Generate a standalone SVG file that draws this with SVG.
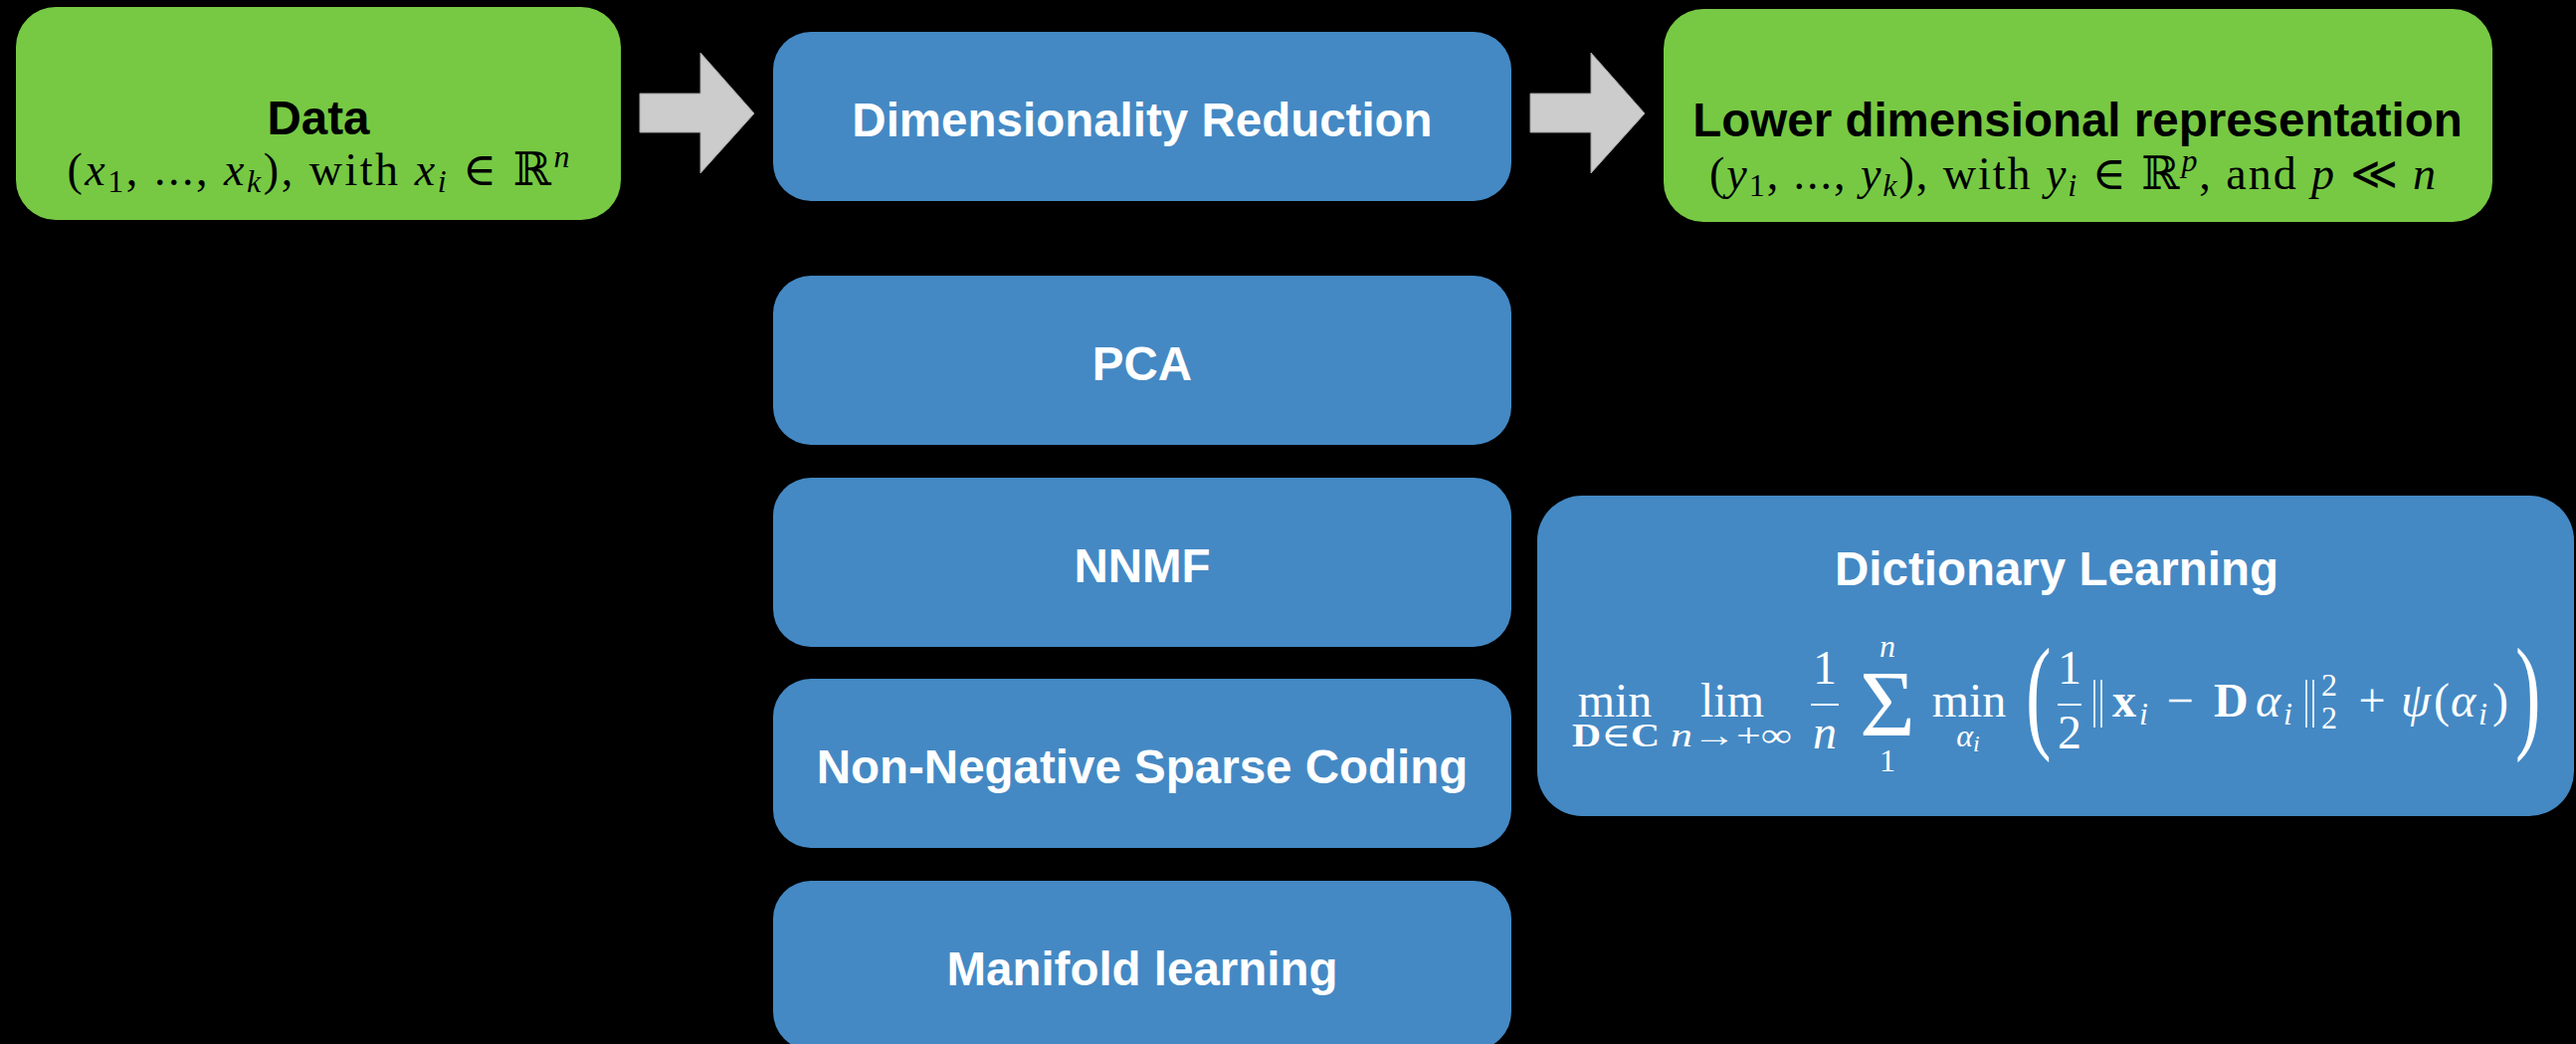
<svg xmlns="http://www.w3.org/2000/svg" width="2589" height="1049" viewBox="0 0 2589 1049">
<defs>
<style>
.bg{fill:#000}
.green{fill:#77c944}
.blue{fill:#4489c4}
.t{font-family:"Liberation Sans",Arial,sans-serif;font-weight:bold;font-size:47.5px;text-anchor:middle}
.w{fill:#fff}
.k{fill:#000}
.m{font-family:"Liberation Serif","DejaVu Serif",serif;font-size:46px}
.big{font-size:48px}
.s{font-size:32px}
.ss{font-size:24px}
.it{font-style:italic}
.bd{font-weight:bold}
.mid{text-anchor:middle}
.arrow{fill:#cccccc;stroke:#a0a0a0;stroke-width:1}
.bar{stroke:#fff;stroke-width:2}
.norm{stroke:#fff;stroke-width:1.6}
</style>
</defs>
<rect class="bg" x="0" y="0" width="2589" height="1049"/>

<g id="connectors">
<polygon class="arrow" points="643,94 704,94 704,53 758,114 704,174 704,133 643,133"/>
<polygon class="arrow" points="1538,94 1599,94 1599,53 1653,114 1599,174 1599,133 1538,133"/>
</g>

<g id="data">
<rect class="green" x="16" y="7" width="608" height="214" rx="40" ry="40"/>
<text class="t k" x="320" y="135">Data</text>
<text class="m k mid" x="320" y="186" textLength="505">(<tspan class="it">x</tspan><tspan class="s" dy="7">1</tspan><tspan dy="-7">, ..., </tspan><tspan class="it">x</tspan><tspan class="s it" dy="7">k</tspan><tspan dy="-7">), with </tspan><tspan class="it">x</tspan><tspan class="s it" dy="7">i</tspan><tspan dy="-7"> ∈ ℝ</tspan><tspan class="s it" dy="-18">n</tspan></text>
</g>

<g id="dimensionality-reduction">
<rect class="blue" x="777" y="32" width="742" height="170" rx="38" ry="38"/>
<text class="t w" x="1148" y="137">Dimensionality Reduction</text>
</g>

<g id="lower-dimensional">
<rect class="green" x="1672" y="9" width="833" height="214" rx="40" ry="40"/>
<text class="t k" x="2088" y="137">Lower dimensional representation</text>
<text class="m k mid" x="2083" y="190" textLength="730">(<tspan class="it">y</tspan><tspan class="s" dy="7">1</tspan><tspan dy="-7">, ..., </tspan><tspan class="it">y</tspan><tspan class="s it" dy="7">k</tspan><tspan dy="-7">), with </tspan><tspan class="it">y</tspan><tspan class="s it" dy="7">i</tspan><tspan dy="-7"> ∈ ℝ</tspan><tspan class="s it" dy="-18">p</tspan><tspan dy="18">, and </tspan><tspan class="it">p</tspan><tspan> ≪ </tspan><tspan class="it">n</tspan></text>
</g>

<g id="pca">
<rect class="blue" x="777" y="277" width="742" height="170" rx="38" ry="38"/>
<text class="t w" x="1148" y="382">PCA</text>
</g>

<g id="nnmf">
<rect class="blue" x="777" y="480" width="742" height="170" rx="38" ry="38"/>
<text class="t w" x="1148" y="585">NNMF</text>
</g>

<g id="nnsc">
<rect class="blue" x="777" y="682" width="742" height="170" rx="38" ry="38"/>
<text class="t w" x="1148" y="787">Non-Negative Sparse Coding</text>
</g>

<g id="manifold">
<rect class="blue" x="777" y="885" width="742" height="170" rx="38" ry="38"/>
<text class="t w" x="1148" y="990">Manifold learning</text>
</g>

<g id="dictionary-learning">
<rect class="blue" x="1545" y="498" width="1042" height="322" rx="45" ry="45"/>
<text class="t w" x="2067" y="588">Dictionary Learning</text>
<g class="m w">
<text class="big mid" x="1623" y="720">min</text>
<text class="mid" font-size="34" x="1624" y="750" textLength="88" lengthAdjust="spacingAndGlyphs"><tspan class="bd">D</tspan>∈<tspan class="bd">C</tspan></text>
<text class="big mid" x="1741" y="720">lim</text>
<text class="mid" font-size="34" x="1740" y="750" textLength="122" lengthAdjust="spacingAndGlyphs"><tspan class="it">n</tspan>→+∞</text>
<text class="big mid" x="1834" y="687">1</text>
<line class="bar" x1="1820" y1="708" x2="1848" y2="708"/>
<text class="big mid it" x="1834" y="752">n</text>
<text class="mid" font-size="96" x="1897" y="740">Σ</text>
<text class="s mid it" x="1897" y="660">n</text>
<text class="s mid" x="1897" y="775">1</text>
<text class="big mid" x="1979" y="720">min</text>
<text class="s mid" x="1978" y="750"><tspan class="it">α</tspan><tspan class="ss it" dy="5">i</tspan></text>
<text font-size="128" x="0" y="739" transform="translate(2036,0) scale(0.6,1)">(</text>
<text class="big mid" x="2080" y="687">1</text>
<line class="bar" x1="2068" y1="708" x2="2092" y2="708"/>
<text class="big mid" x="2080" y="752">2</text>
<line class="norm" x1="2105" y1="683" x2="2105" y2="731"/>
<line class="norm" x1="2112" y1="683" x2="2112" y2="731"/>
<text class="big bd" x="2123" y="720">x</text>
<text class="s it" x="2150" y="728">i</text>
<text class="big mid" x="2191" y="720">−</text>
<text class="big bd" x="2225" y="720">D</text>
<text class="big it" x="2267" y="720">α</text>
<text class="s it" x="2295" y="728">i</text>
<line class="norm" x1="2318" y1="683" x2="2318" y2="731"/>
<line class="norm" x1="2325" y1="683" x2="2325" y2="731"/>
<text class="s" x="2333" y="699">2</text>
<text class="s" x="2333" y="732">2</text>
<text class="big mid" x="2384" y="720">+</text>
<text class="big it" x="2413" y="720">ψ</text>
<text class="big" x="2446" y="720">(</text>
<text class="big it" x="2463" y="720">α</text>
<text class="s it" x="2491" y="728">i</text>
<text class="big" x="2505" y="720">)</text>
<text font-size="128" x="0" y="739" transform="translate(2528,0) scale(0.6,1)">)</text>
</g>
</g>
</svg>
